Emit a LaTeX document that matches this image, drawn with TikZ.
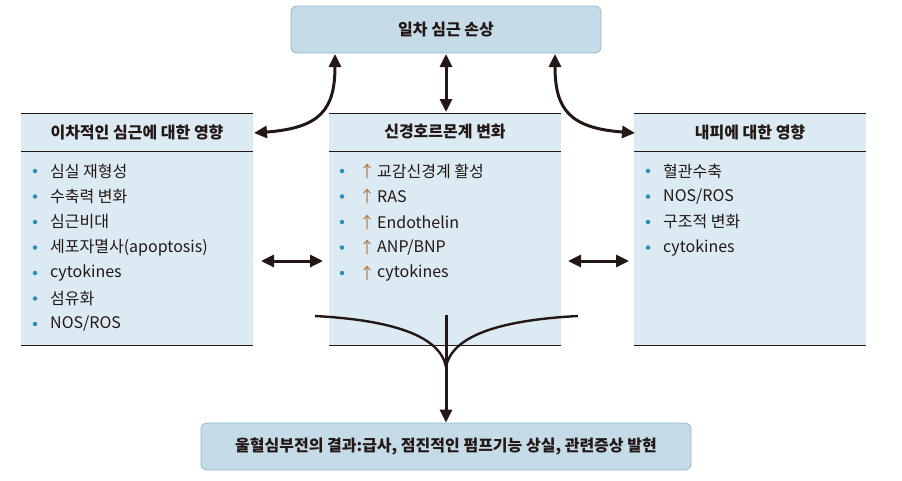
\documentclass[tikz,border=0pt]{standalone}
\usepackage{fontspec}
\setmainfont{Noto Sans CJK KR}
\usetikzlibrary{arrows.meta}
\definecolor{topfill}{HTML}{C5DCE8}
\definecolor{topdraw}{HTML}{8FB5CC}
\definecolor{boxfill}{HTML}{DCEAF3}
\definecolor{dot}{HTML}{2A8FB8}
\definecolor{up}{HTML}{B0703A}
\definecolor{ink}{HTML}{231815}
\tikzset{
  rbox/.style={draw=topdraw,fill=topfill,rounded corners=6pt,line width=0.8pt,font=\fontsize{16}{18}\selectfont\bfseries,text=ink},
  hd/.style={font=\fontsize{16}{18}\selectfont\bfseries,text=ink},
  it/.style={font=\fontsize{16}{18}\selectfont,text=ink,anchor=west,inner sep=0pt},
  bul/.style={circle,fill=dot,inner sep=0pt,minimum size=4.5pt},
  arr/.style={line width=3pt,draw=ink,-{Triangle[length=13pt,width=12pt]}},
  darr/.style={line width=3pt,draw=ink,{Triangle[length=13pt,width=12pt]}-{Triangle[length=13pt,width=12pt]}},
}
\begin{document}
\begin{tikzpicture}[x=1pt,y=-1pt]
\useasboundingbox (0,0) rectangle (902,480);
\node[rbox,minimum width=310pt,minimum height=47pt] (top) at (446,29.5) {일차 심근 손상};
\node[rbox,minimum width=490pt,minimum height=47pt] (bot) at (446,446.5) {울혈심부전의 결과:급사, 점진적인 펌프기능 상실, 관련증상 발현};
\foreach \n/\x in {L/21,M/329,R/634}{
  \fill[boxfill] (\x,113) rectangle ++(232,232);
  \draw[ink,line width=0.8pt] (\x,113) -- ++(232,0);
  \draw[ink,line width=0.8pt] (\x,151) -- ++(232,0);
  \draw[ink,line width=0.8pt] (\x,345) -- ++(232,0);
  \coordinate (\n) at (\x,113);
}
\node[hd] (hL) at (137,132) {이차적인 심근에 대한 영향};
\node[hd] (hM) at (445,132) {신경호르몬계 변화};
\node[hd] (hR) at (750,132) {내피에 대한 영향};
\foreach \t [count=\i from 0] in {심실 재형성,수축력 변화,심근비대,세포자멸사(apoptosis),cytokines,섬유화,NOS/ROS}{
  \node[bul] (lb\i) at (35,{171+25.5*\i}) {};
  \node[it] (lt\i) at (50,{171+25.5*\i}) {\t};
}
\foreach \t [count=\i from 0] in {교감신경계 활성,RAS,Endothelin,ANP/BNP,cytokines}{
  \node[bul] (mb\i) at (342,{171+25.5*\i}) {};
  \node[it,text=up] (mu\i) at (359,{171+25.5*\i}) {↑};
  \node[it] (mt\i) at (377,{171+25.5*\i}) {\t};
}
\foreach \t [count=\i from 0] in {혈관수축,NOS/ROS,구조적 변화,cytokines}{
  \node[bul] (rb\i) at (648,{171+25.5*\i}) {};
  \node[it] (rt\i) at (663,{171+25.5*\i}) {\t};
}
\coordinate (lA) at (254,133);
\coordinate (rA) at (635,133);
\draw[darr] (lA) .. controls (320,128) and (335,110) .. (335,54);
\draw[darr] (rA) .. controls (570,128) and (555,110) .. (555,54);
\draw[darr] (446,54) -- (446,112);
\coordinate (h1a) at (261,261); \coordinate (h1b) at (323,261);
\coordinate (h2a) at (568,261); \coordinate (h2b) at (629,261);
\draw[darr] (h1a) -- (h1b);
\draw[darr] (h2a) -- (h2b);
\coordinate (m1) at (315,316); \coordinate (m2) at (578,316);
\coordinate (mj) at (446,367); \coordinate (mv) at (446,315);
\draw[ink,line width=2.4pt] (m1) .. controls (390,320) and (440,335) .. (mj);
\draw[ink,line width=2.4pt] (m2) .. controls (502,320) and (452,335) .. (mj);
\draw[arr] (mv) -- (bot.north);
\end{tikzpicture}
\end{document}
